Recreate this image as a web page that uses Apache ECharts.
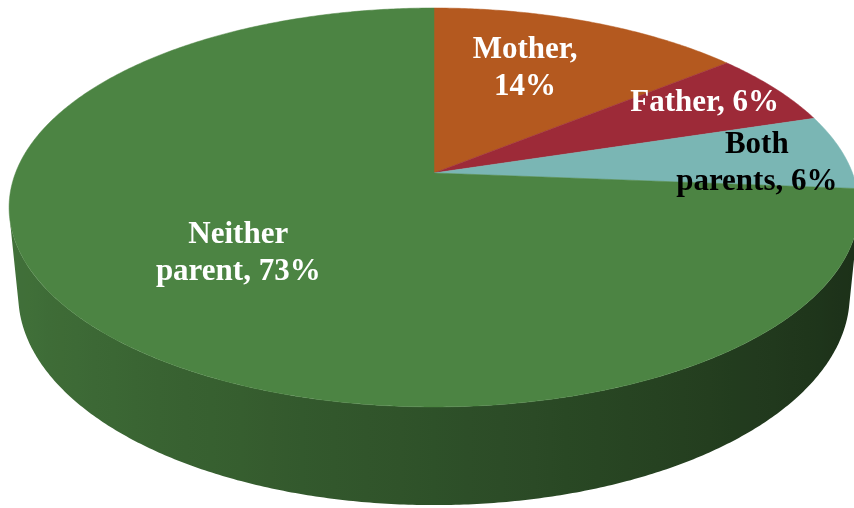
<!DOCTYPE html>
<html>
<head>
<meta charset="utf-8">
<script src="https://cdn.jsdelivr.net/npm/echarts@6/dist/echarts.min.js"></script>
<style>
  html, body { margin: 0; padding: 0; background: #ffffff; }
  #chart { width: 854px; height: 508px; }
</style>
</head>
<body>
<div id="chart"></div>
<script>
// ---- data ----
const categories = ['Mother', 'Father', 'Both parents', 'Neither parent'];
const values = [14, 6, 6, 73];
const percentLabels = ['14%', '6%', '6%', '73%'];
const labelLines = ['Mother,\n14%', 'Father, 6%', 'Both\nparents, 6%', 'Neither\nparent, 73%'];

// ---- style / layout ----
const sliceColors = ['#B4591F', '#9D2A38', '#7AB6B4', '#4C8443'];
const labelColors = ['#ffffff', '#ffffff', '#000000', '#ffffff'];
const labelRadius = [0.645, 0.79, 0.779, 0.583];
const labelAngleShift = [-3.6, -1.0, 2.9, 1.2];

const CX = 434, CY = 173;          // apex of the pie on screen
const S = 0.4624, C = Math.sqrt(1 - S * S); // view tilt
const DIST = 5.13, F = 2147;       // perspective
const H = 0.238;                   // thickness

function proj(X, Y, Z) {
  const depth = DIST - (Z * C + Y * S);
  return [CX + F * X / depth, CY - F * (Y * C - Z * S) / depth];
}
function rim(theta, r, Y) {
  return proj(r * Math.sin(theta), Y, -r * Math.cos(theta));
}
function shadeFactor(theta) {
  return 0.61 - 0.25 * Math.sin(theta);
}
function shade(hex, k) {
  const n = parseInt(hex.slice(1), 16);
  const r = Math.round(((n >> 16) & 255) * k);
  const g = Math.round(((n >> 8) & 255) * k);
  const b = Math.round((n & 255) * k);
  return 'rgb(' + r + ',' + g + ',' + b + ')';
}

const total = values.reduce((a, b) => a + b, 0);
const starts = [];
let acc = 0;
values.forEach(v => { starts.push(acc); acc += v; });

const chart = echarts.init(document.getElementById('chart'), null, { renderer: 'canvas' });

function renderItem(params, api) {
  const i = params.dataIndex;
  const v = api.value(1);
  const a0 = starts[i] / total * Math.PI * 2;
  const a1 = a0 + v / total * Math.PI * 2;
  const children = [];
  const step = Math.PI / 360;

  // side wall (front-facing part only)
  const thL = Math.acos(-1 / (DIST * C));
  const w0 = Math.max(a0, thL), w1 = Math.min(a1, Math.PI * 2 - thL);
  if (w1 > w0) {
    const m = Math.max(2, Math.ceil((w1 - w0) / step));
    const top = [], bot = [], stops = [];
    for (let k = 0; k <= m; k++) {
      const t = w0 + (w1 - w0) * k / m;
      top.push(rim(t, 1, 0));
      bot.push(rim(t, 1, -H));
    }
    const xs = [];
    for (let k = 0; k <= 40; k++) {
      const t = w0 + (w1 - w0) * k / 40;
      xs.push([rim(t, 1, -H / 2)[0], shade(sliceColors[i], shadeFactor(t))]);
    }
    xs.sort((p, q) => p[0] - q[0]);
    const xmin = xs[0][0], xmax = xs[xs.length - 1][0];
    xs.forEach(p => stops.push({ offset: (p[0] - xmin) / (xmax - xmin), color: p[1] }));
    children.push({
      type: 'polygon',
      z2: 1,
      shape: { points: top.concat(bot.reverse()) },
      style: { fill: new echarts.graphic.LinearGradient(xmin, 0, xmax, 0, stops, true) }
    });
  }

  // top face
  const n = Math.max(2, Math.ceil((a1 - a0) / step));
  const pts = [proj(0, 0, 0)];
  for (let k = 0; k <= n; k++) {
    pts.push(rim(a0 + (a1 - a0) * k / n, 1, 0));
  }
  children.push({
    type: 'polygon',
    z2: 10,
    shape: { points: pts },
    style: { fill: sliceColors[i], stroke: sliceColors[i], lineWidth: 0.5 }
  });

  // label
  const mid = (a0 + a1) / 2 + labelAngleShift[i] * Math.PI / 180;
  const lp = rim(mid, labelRadius[i], 0);
  children.push({
    type: 'text',
    z2: 20,
    x: lp[0],
    y: lp[1],
    style: {
      text: labelLines[i],
      fill: labelColors[i],
      fontFamily: '"Liberation Serif", "DejaVu Serif", serif',
      fontWeight: 'bold',
      fontSize: 31,
      lineHeight: 37,
      align: 'center',
      verticalAlign: 'middle'
    }
  });

  return { type: 'group', children: children };
}

chart.setOption({
  animation: false,
  backgroundColor: '#ffffff',
  series: [{
    type: 'custom',
    coordinateSystem: 'none',
    renderItem: renderItem,
    silent: true,
    data: categories.map((c, i) => [i, values[i]])
  }]
});
</script>
</body>
</html>
